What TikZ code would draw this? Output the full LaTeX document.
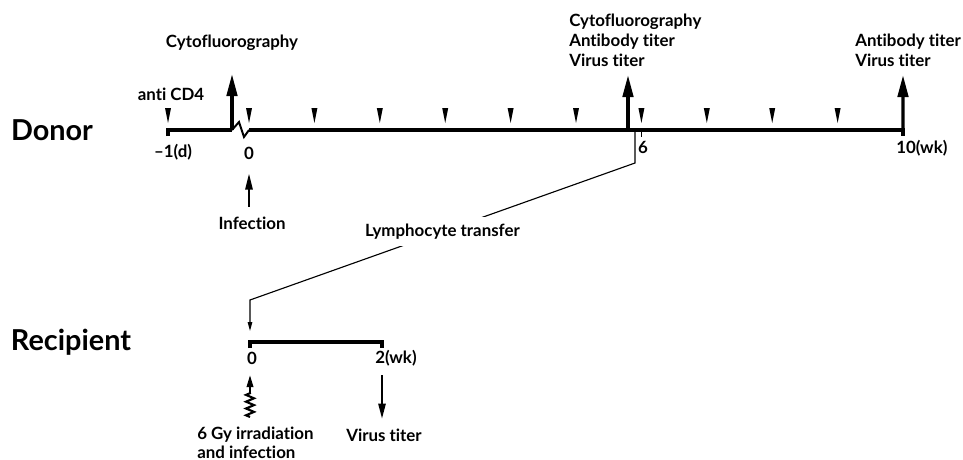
\documentclass[tikz,border=0pt]{standalone}
\usepackage{fontspec}
\setmainfont{Lato}[Ligatures={TeX,NoCommon}]
\usetikzlibrary{arrows.meta,decorations.pathmorphing}

\begin{document}
\begin{tikzpicture}[x=0.025cm,y=-0.025cm,
  lbl/.style={font=\fontsize{12}{14.2}\selectfont\bfseries, inner sep=0pt},
  side/.style={font=\fontsize{20.5}{24}\selectfont\bfseries, inner sep=0pt},
  axisline/.style={line width=3.3pt},
  bigarrow/.style={line width=2.4pt,-{Triangle[length=5.5mm,width=2.6mm]}},
  smallarrow/.style={line width=1.5pt,-{Triangle[length=4mm,width=1.8mm]}},
  thinline/.style={line width=0.8pt}]
\useasboundingbox (0,0) rectangle (963,460);

%%% Donor time line
\node[side] (donor) at (52,130) {Donor};
\coordinate (dm1) at (168,130);
\foreach \w in {0,...,10} \coordinate (w\w) at (249+65.4*\w,130);
\coordinate (brk) at (232,130);
\draw[axisline] (168,136) -- (dm1) -- (brk);
\draw[line width=1.4pt,line join=miter] (brk) -- (239,122) -- (244,137) -- (w0);
\draw[axisline] (w0) -- (w10) -- ++(0,6);
\draw[thinline] (w6) -- ++(0,7);

%%% weekly markers
\foreach \c in {dm1,w0,w1,w2,w3,w4,w5,w6,w7,w8,w9}
  \fill ([shift={(-3,-22)}]\c) -- ++(6,0) -- ++(-3,15) -- cycle;

\node[lbl] (cd4) at (171,94) {anti CD4};
\node[lbl] (dm1l) at (173,152) {--1(d)};
\node[lbl] (d0) at (249,153) {0};
\node[lbl] (d6) at (643,147) {6};
\node[lbl,anchor=west] (d10) at (896,148) {10(wk)};

%%% sampling
\coordinate (cyto1) at (232,74);
\coordinate (a6b) at (628,130);
\coordinate (a6t) at (628,75);
\coordinate (a10t) at (903,75);
\draw[bigarrow] (brk) -- (cyto1);
\draw[bigarrow] (a6b) -- (a6t);
\draw[bigarrow] (w10) -- (a10t);
\node[lbl] (cyto) at (232,43) {Cytofluorography};
\node[lbl,align=left,anchor=north west] (s6) at (569,14) {Cytofluorography\\Antibody titer\\Virus titer};
\node[lbl,align=left,anchor=north west] (s10) at (855,34) {Antibody titer\\Virus titer};

\node[lbl] (inf) at (252,223) {Infection};
\draw[smallarrow,shorten <=2.4mm,shorten >=3.5mm] (d0.south |- inf.north) -- (d0.south);

%%% Recipient time line
\node[side] (recip) at (71,342) {Recipient};
\coordinate (r0) at (250,342);
\coordinate (r2) at (382,342);
\draw[axisline] (250,348) -- (r0) -- (r2) -- ++(0,6);
\node[lbl] (rl0) at (252,358) {0};
\node[lbl,anchor=west] (rl2) at (375,358) {2(wk)};

%%% transfer
\coordinate (t6) at (635,130);
\coordinate (tk) at (635,163);
\coordinate (rtop) at (250,300);
\coordinate (rin) at (250,331);
\draw[thinline,-{Triangle[length=2.2mm,width=1.1mm]}] (t6) -- (tk)
  -- node[lbl,fill=white,inner sep=4.5pt,pos=0.5] (lt) {Lymphocyte transfer} (rtop) -- (rin);

%%% irradiation and titer
\node[lbl,align=left,anchor=north west,font=\fontsize{12}{13.2}\selectfont\bfseries] (irr) at (197,427) {6 Gy irradiation\\and infection};
\coordinate (zz0) at (250,417);
\coordinate (zz1) at (250,393);
\coordinate (zzt) at (250,375);
\draw[line width=1.5pt,decorate,decoration={zigzag,segment length=1.7mm,amplitude=1mm}] (zz0) -- (zz1);
\draw[line width=1.5pt,-{Triangle[length=3mm,width=1.6mm]}] (zz1) -- (zzt);

\node[lbl] (vt) at (384,435) {Virus titer};
\coordinate (vtop) at (382,375);
\draw[line width=1.5pt,-{Triangle[length=3.8mm,width=1.8mm]},shorten >=2.4mm] (vtop) -- (vtop |- vt.north);

\end{tikzpicture}
\end{document}
